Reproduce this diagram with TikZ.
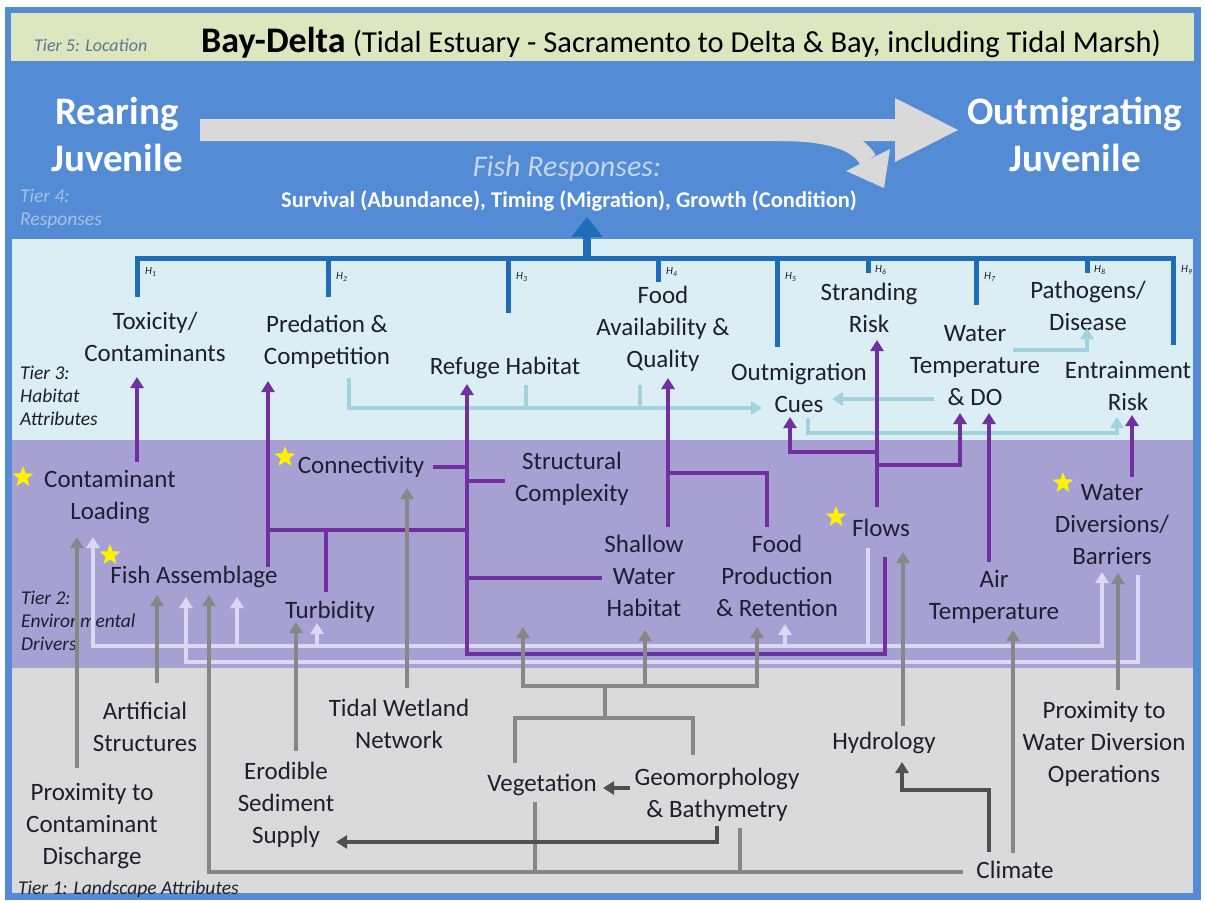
\documentclass[tikz,border=0pt]{standalone}
\usepackage{fontspec}
\setmainfont{Carlito}
\usetikzlibrary{arrows.meta,shapes.geometric}
\definecolor{frameblue}{HTML}{538CD5}
\definecolor{tfive}{HTML}{DCE6BF}
\definecolor{tthree}{HTML}{DAEEF3}
\definecolor{ttwo}{HTML}{A7A1D3}
\definecolor{tone}{HTML}{DADADA}
\definecolor{purp}{HTML}{7030A0}
\definecolor{hblue}{HTML}{1F6DB6}
\definecolor{lblue}{HTML}{A3D2DF}
\definecolor{lilac}{HTML}{DDD7F2}
\definecolor{gline}{HTML}{878787}
\definecolor{dline}{HTML}{505050}
\definecolor{bigarrow}{HTML}{D9D9D9}
\definecolor{txt}{HTML}{1E1E2E}
\definecolor{fishresp}{HTML}{C6D5EA}
\definecolor{tierfour}{HTML}{A6C1E6}
\definecolor{tierfive}{HTML}{5D7790}
\begin{document}
\begin{tikzpicture}[x=1pt,y=-1pt,
  lab/.style={font=\fontsize{25}{32}\selectfont, align=center, text=txt, inner sep=0pt},
  tierlab/.style={font=\fontsize{19.5}{23}\selectfont\itshape, align=left, anchor=west, inner sep=0pt, text=txt},
  hl/.style={font=\fontsize{11}{12}\selectfont\itshape, anchor=west, inner sep=0pt, text=txt},
  tip/.style={-{Triangle[width=13pt,length=11pt]}},
  pur/.style={draw=purp, line width=4pt},
  blu/.style={draw=hblue, line width=5pt},
  lbl/.style={draw=lblue, line width=4pt},
  lil/.style={draw=lilac, line width=4pt},
  gry/.style={draw=gline, line width=4pt},
  dgry/.style={draw=dline, line width=4.5pt},
  starmark/.style={star, star points=5, star point ratio=2.4, fill=yellow, draw=none, minimum size=22pt, inner sep=0pt}
]
% background and tiers
\fill[white] (0,0) rectangle (1205,902);
\fill[frameblue] (5,7) rectangle (1201,900);
\fill[tfive] (11,13) rectangle (1194,61);
\fill[tthree] (12,239) rectangle (1193,440);
\fill[ttwo] (12,440) rectangle (1193,668);
\fill[tone] (12,668) rectangle (1193,893);

% tier 5
\node[tierlab, text=tierfive, font=\fontsize{18}{22}\selectfont\itshape] (t5) at (34,45) {Tier 5: Location};
\node[anchor=base west, inner sep=0pt, font=\fontsize{36}{40}\selectfont\bfseries] (bd) at (201,52) {Bay-Delta};
\node[anchor=base west, inner sep=0pt, font=\fontsize{30.5}{33}\selectfont] (bdsub) at (bd.base east) {\ (Tidal Estuary - Sacramento to Delta \& Bay, including Tidal Marsh)};

% tier 4
\fill[bigarrow] (200,119) -- (895,119) -- (895,98) -- (958,130) -- (895,162) -- (895,141) -- (200,141) -- cycle;
\draw[bigarrow, line width=18pt] (780,132) .. controls (830,132) and (858,142) .. (868,160);
\fill[bigarrow] (884,188) -- (846,171) -- (890,149) -- cycle;
\node[font=\fontsize{39}{47}\selectfont\bfseries, text=white, align=center, inner sep=0pt] (rear) at (117,134) {Rearing\\Juvenile};
\node[font=\fontsize{39}{47}\selectfont\bfseries, text=white, align=center, inner sep=0pt] (outm) at (1075,134) {Outmigrating\\Juvenile};
\node[font=\fontsize{30}{34}\selectfont\itshape, text=fishresp, inner sep=0pt] (fr) at (567,168) {Fish Responses:};
\node[font=\fontsize{22.5}{26}\selectfont\bfseries, text=white, inner sep=0pt] (surv) at (569,201) {Survival (Abundance), Timing (Migration), Growth (Condition)};
\node[tierlab, text=tierfour] (t4) at (20,209) {Tier 4:\\Responses};

% blue hypothesis bar
\draw[blu] (137,297) -- (137,258) -- (1173,258) -- (1173,345);
\draw[blu] (328,258) -- (328,297);
\draw[blu] (508,258) -- (508,313);
\draw[blu] (658,258) -- (658,282);
\draw[blu] (777,258) -- (777,347);
\draw[blu] (868,258) -- (868,273);
\draw[blu] (976,258) -- (976,305);
\draw[blu] (1087,258) -- (1087,273);
\draw[draw=hblue, line width=8pt, -{Triangle[width=30pt,length=20pt]}] (587,258) -- (587,217);
\node[hl] (h1) at (145,272) {H\textsubscript{1}};
\node[hl] (h2) at (336,277) {H\textsubscript{2}};
\node[hl] (h3) at (516,277) {H\textsubscript{3}};
\node[hl] (h4) at (666,272) {H\textsubscript{4}};
\node[hl] (h5) at (785,277) {H\textsubscript{5}};
\node[hl] (h6) at (875,270) {H\textsubscript{6}};
\node[hl] (h7) at (984,277) {H\textsubscript{7}};
\node[hl] (h8) at (1094,270) {H\textsubscript{8}};
\node[hl] (h9) at (1181,270) {H\textsubscript{9}};

% tier 3 labels
\node[lab] (tox) at (155,337) {Toxicity/\\Contaminants};
\node[lab] (pred) at (327,342) {Predation \&\\Competition};
\node[lab] (ref) at (505,368) {Refuge Habitat};
\node[lab] (food) at (663,329) {Food\\Availability \&\\Quality};
\node[lab] (cues) at (799,388) {Outmigration\\Cues};
\node[lab] (strand) at (869,308) {Stranding\\Risk};
\node[lab] (wtemp) at (975,366) {Water\\Temperature\\\& DO};
\node[lab] (path) at (1088,306) {Pathogens/\\Disease};
\node[lab] (entr) at (1128,386) {Entrainment\\Risk};
\node[tierlab] (t3) at (20,396) {Tier 3:\\Habitat\\Attributes};

% tier 3 light blue connectors
\draw[lbl,tip] (349,378) -- (349,408) -- (762,408);
\draw[lbl] (526,385) -- (526,408);
\draw[lbl] (640,385) -- (640,408);
\draw[lbl,tip] (934,399) -- (832,399);
\draw[lbl,tip] (1013,350) -- (1087,350) -- (1087,328);
\draw[lbl,tip] (808,418) -- (808,433) -- (1117,433) -- (1117,417);

% tier 2 labels
\node[lab] (cload) at (110,497) {Contaminant\\Loading};
\node[lab] (fish) at (194,577) {Fish Assemblage};
\node[lab] (conn) at (361,467) {Connectivity};
\node[lab] (struct) at (572,479) {Structural\\Complexity};
\node[lab] (turb) at (330,612) {Turbidity};
\node[lab] (shallow) at (644,576) {Shallow\\Water\\Habitat};
\node[lab] (fprod) at (777,576) {Food\\Production\\\& Retention};
\node[lab] (flows) at (881,528) {Flows};
\node[lab] (air) at (994,597) {Air\\Temperature};
\node[lab] (wdiv) at (1112,525) {Water\\Diversions/\\Barriers};
\node[tierlab] (t2) at (21,621) {Tier 2:\\Environmental\\Drivers};
\node[starmark] (s1) at (23,477) {};
\node[starmark] (s2) at (110,555) {};
\node[starmark] (s3) at (285,457) {};
\node[starmark] (s4) at (836,517) {};
\node[starmark] (s5) at (1063,483) {};

% lilac connectors
\draw[lil,tip] (868,548) -- (868,646) -- (93,646) -- (93,537);
\draw[lil,tip] (868,646) -- (1102,646) -- (1102,572);
\draw[lil,tip] (237,646) -- (237,597);
\draw[lil,tip] (317,646) -- (317,623);
\draw[lil,tip] (785,646) -- (785,624);
\draw[lil,tip] (1138,575) -- (1138,662) -- (186,662) -- (186,597);

% purple connectors
\draw[pur,tip] (137,462) -- (137,377);
\draw[pur,tip] (268,567) -- (268,381);
\draw[pur] (268,530) -- (467,530);
\draw[pur] (326,530) -- (326,592);
\draw[pur,tip] (885,557) -- (885,654) -- (467,654) -- (467,384);
\draw[pur] (433,467) -- (467,467);
\draw[pur] (467,481) -- (505,481);
\draw[pur] (467,578) -- (602,578);
\draw[pur,tip] (668,527) -- (668,378);
\draw[pur] (668,473) -- (767,473) -- (767,527);
\draw[pur,tip] (877,507) -- (877,340);
\draw[pur,tip] (877,452) -- (790,452) -- (790,417);
\draw[pur,tip] (877,465) -- (960,465) -- (960,413);
\draw[pur,tip] (989,562) -- (989,413);
\draw[pur,tip] (1132,477) -- (1132,415);

% tier 1 labels
\node[lab] (artif) at (145,727) {Artificial\\Structures};
\node[lab] (tidal) at (399,724) {Tidal Wetland\\Network};
\node[lab] (proxc) at (92,826) {Proximity to\\Contaminant\\Discharge};
\node[lab] (erod) at (286,805) {Erodible\\Sediment\\Supply};
\node[lab] (veg) at (542,785) {Vegetation};
\node[lab] (geo) at (717,795) {Geomorphology\\\& Bathymetry};
\node[lab] (hydro) at (884,743) {Hydrology};
\node[lab] (proxw) at (1104,744) {Proximity to\\Water Diversion\\Operations};
\node[lab] (clim) at (1015,870) {Climate};
\node[tierlab] (t1) at (18,889) {Tier 1: Landscape Attributes};

% gray connectors
\draw[gry,tip] (77,768) -- (77,537);
\draw[gry,tip] (157,683) -- (157,595);
\draw[gry,tip] (963,872) -- (209,872) -- (209,595);
\draw[gry,tip] (296,751) -- (296,622);
\draw[gry,tip] (407,688) -- (407,488);
\draw[gry,tip] (903,726) -- (903,552);
\draw[gry,tip] (1013,853) -- (1013,630);
\draw[gry,tip] (1118,690) -- (1118,573);
\draw[gry] (515,763) -- (515,718) -- (693,718) -- (693,755);
\draw[gry] (605,718) -- (605,686);
\draw[gry,tip] (605,686) -- (523,686) -- (523,627);
\draw[gry,tip] (605,686) -- (757,686) -- (757,627);
\draw[gry,tip] (645,686) -- (645,630);
\draw[gry] (535,802) -- (535,872);
\draw[gry] (740,828) -- (740,872);
\draw[dgry,tip] (717,826) -- (717,842) -- (336,842);
\draw[dgry,tip] (630,788) -- (603,788);
\draw[dgry,tip] (989,852) -- (989,790) -- (902,790) -- (902,762);
\end{tikzpicture}
\end{document}
